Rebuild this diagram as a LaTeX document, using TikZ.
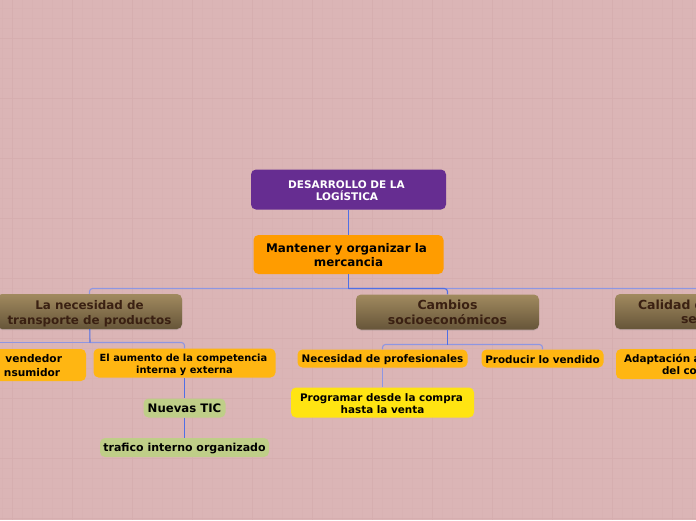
\documentclass[tikz,border=0pt]{standalone}
\usepackage{fontspec}
\setmainfont{DejaVu Sans}
\usetikzlibrary{shadows}
\definecolor{paper}{HTML}{DBB5B6}
\definecolor{gridline}{HTML}{D9B2B3}
\definecolor{gridmajor}{HTML}{D6AEAF}
\definecolor{linkdark}{HTML}{4F6FE6}
\definecolor{linklight}{HTML}{8E96E2}
\definecolor{purplebox}{HTML}{662D91}
\definecolor{orangebox}{HTML}{FF9C00}
\definecolor{amberbox}{HTML}{FFB612}
\definecolor{yellowbox}{HTML}{FFE412}
\definecolor{olivebox}{HTML}{BFCE88}
\definecolor{browntop}{HTML}{A18A5F}
\definecolor{brownbottom}{HTML}{665539}
\definecolor{browntext}{HTML}{3A2012}
\newcommand{\boldsize}[2]{\fontsize{#1}{#2}\selectfont\bfseries}
\newcommand{\lowertext}[2]{\raisebox{-#1pt}[\height][\depth]{#2}}
\tikzset{
  x=1pt, y=-1pt,
  rootbox/.style = {rounded corners=5pt, fill=purplebox, text=white, align=center, font=\boldsize{10.5}{12}, minimum width=195pt, minimum height=40pt},
  mainbox/.style = {rounded corners=5pt, fill=orangebox, text=black, align=center, font=\boldsize{11.9}{14}, minimum width=190pt, minimum height=39pt},
  topicbox/.style = {rounded corners=5pt, top color=browntop, bottom color=brownbottom, text=browntext, align=center, font=\boldsize{12.5}{15}, minimum height=35pt, drop shadow={shadow xshift=0pt, shadow yshift=-1pt, opacity=0.3}},
  itembox/.style = {rounded corners=5pt, fill=amberbox, text=black, align=center, font=\boldsize{10.4}{12}},
  noteitem/.style = {rounded corners=5pt, fill=olivebox, text=black, align=center, font=\boldsize{11}{13}},
  link/.style = {linkdark, line width=1.1pt},
  bus/.style = {linklight, line width=1.1pt, rounded corners=3pt}
  }
\begin{document}
\begin{tikzpicture}
\path[use as bounding box, clip] (0,0) rectangle (696,520);
\fill[paper] (0,0) rectangle (696,520);
% grid of the sheet
\foreach \gx in {2,12,...,692} {\draw[gridline, line width=0.5pt] (\gx,0) -- (\gx,520);}
\foreach \gy in {8,18,...,518} {\draw[gridline, line width=0.5pt] (0,\gy) -- (696,\gy);}
\foreach \gx in {12,72,...,692} {\draw[gridmajor, line width=0.5pt] (\gx,0) -- (\gx,520);}
\foreach \gy in {38,98,...,518} {\draw[gridmajor, line width=0.5pt] (0,\gy) -- (696,\gy);}

\node[rootbox] (root) at (348.5,189.5) {\lowertext{1}{\hspace{-4pt}DESARROLLO DE LA}\\\lowertext{1}{\hspace{-3pt}LOGÍSTICA}};
\node[mainbox] (mercancia) at (348.5,254.5) {\lowertext{1}{\hspace{-4pt}Mantener y organizar la}\\\lowertext{1}{mercancia}};

\node[topicbox, font=\boldsize{11.9}{15}, minimum width=185pt] (transporte) at (89.5,311.5) {\lowertext{2}{La necesidad de}\\\lowertext{2}{transporte de productos}};
\node[topicbox, minimum width=183pt] (cambios) at (447.5,312) {Cambios\\socioeconómicos};
\node[topicbox, font=\boldsize{12.5}{14}, minimum width=180pt, text width=156pt, inner xsep=12pt, align=left] (calidad) at (705,311.5) {\hspace{11pt}Calidad d\\\hspace{54pt}se};

\node[itembox, font=\boldsize{10.6}{14}, minimum width=106pt, minimum height=32pt, text width=58pt, inner xsep=24pt, align=right] (vendedor) at (33,365) {\lowertext{1}{vendedor}\\\lowertext{1}{nsumidor}\hspace*{6pt}};
\node[itembox, font=\boldsize{9.85}{12}, minimum width=182pt, minimum height=29pt] (competencia) at (184.5,363) {\lowertext{2}{\hspace{-2pt}El aumento de la competencia}\\\lowertext{2}{interna y externa}};
\node[noteitem, font=\boldsize{11.7}{14}, minimum width=82pt, minimum height=19pt] (tic) at (184.5,408) {Nuevas TIC};
\node[noteitem, minimum width=169pt, minimum height=19pt] (trafico) at (184.5,447.5) {\lowertext{1}{trafico interno organizado}};

\node[itembox, minimum width=170pt, minimum height=18pt] (profesionales) at (382.5,358.5) {\lowertext{1}{Necesidad de profesionales}};
\node[itembox, minimum width=122pt, minimum height=18pt] (producir) at (542.5,358.5) {\lowertext{1}{Producir lo vendido}};
\node[itembox, fill=yellowbox, minimum width=183pt, minimum height=30pt] (programar) at (382.5,402.5) {\lowertext{1}{\hspace{-2pt}Programar desde la compra}\\\lowertext{1}{hasta la venta}};
\node[itembox, minimum width=160pt, minimum height=30pt, text width=140pt, inner xsep=10pt, align=left] (adaptacion) at (696,364) {\hspace{-2pt}Adaptación a\\\hspace{36pt}del co};

\coordinate (busmain) at (348.5,288.5);
\coordinate (bustransporte) at (90,342.5);
\coordinate (busleft) at (-5,342.5);
\coordinate (buscambios) at (447.5,344.5);

\draw[link] (root) -- (mercancia);
\draw[bus] (busmain) -| (transporte.north);
\draw[bus] (busmain) -| (calidad.north);
\draw[bus, linkdark] (busmain) -| (cambios.north);
\draw[link] (mercancia) -- (busmain);

\draw[bus] (bustransporte) -- (busleft);
\draw[bus] (bustransporte) -| (competencia.north);
\draw[link] (transporte) -- (bustransporte);
\draw[link] (competencia) -- (tic);
\draw[link] (tic) -- (trafico);

\draw[bus] (buscambios) -| (profesionales.north);
\draw[bus] (buscambios) -| (producir.north);
\draw[link] (cambios) -- (buscambios);
\draw[bus] (profesionales) -- (programar);
\end{tikzpicture}
\end{document}
